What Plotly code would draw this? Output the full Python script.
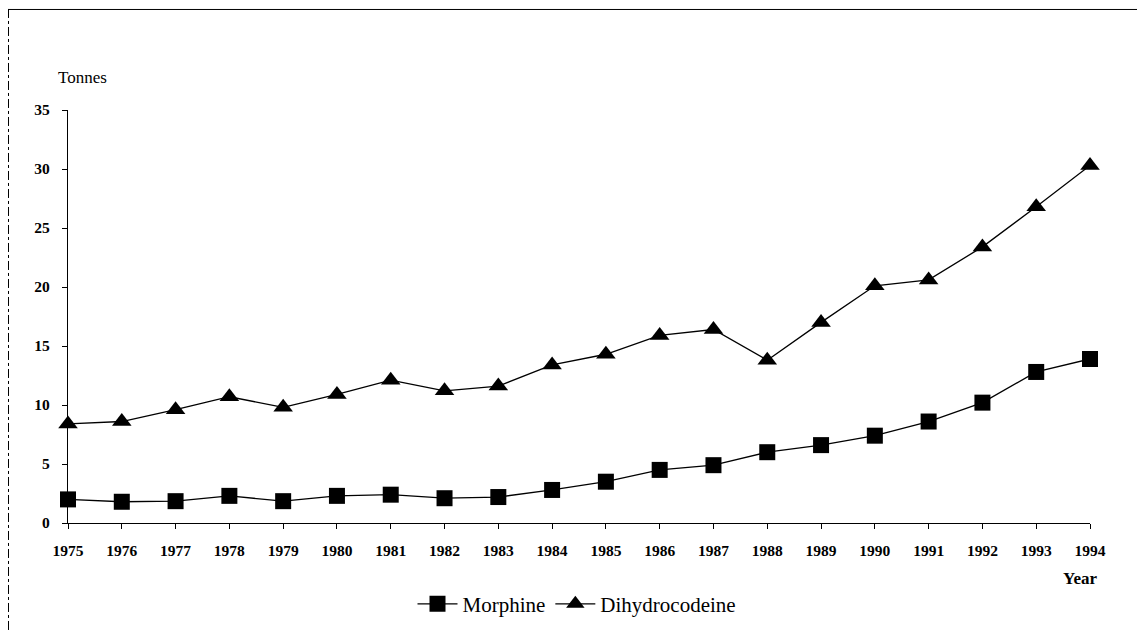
import plotly.graph_objects as go

years = list(range(1975, 1995))
morphine = [2.0, 1.8, 1.85, 2.3, 1.85, 2.3, 2.4, 2.1, 2.2, 2.8, 3.5, 4.5, 4.9, 6.0, 6.6, 7.4, 8.6, 10.2, 12.8, 13.9]
dihydrocodeine = [8.4, 8.6, 9.6, 10.7, 9.8, 10.9, 12.1, 11.2, 11.6, 13.4, 14.3, 15.9, 16.4, 13.8, 17.0, 20.1, 20.6, 23.4, 26.8, 30.3]
y_ticks = [0, 5, 10, 15, 20, 25, 30, 35]

OFF = 8  # page body margin
W, H = 1145 - OFF, 637 - OFF
L, R, T, B = 68 - OFF, 55, 110 - OFF, 110
pw, ph = W - L - R, H - T - B

def px_x(p):
    return (p - OFF - L) / pw

def px_y(p):
    return (H - B - (p - OFF)) / ph

serif = "Liberation Serif, Times New Roman, Times, serif"

fig = go.Figure()
fig.add_trace(go.Scatter(
    x=years, y=morphine, name="Morphine", mode="lines+markers",
    line=dict(color="black", width=1.3),
    marker=dict(symbol="square", size=16, color="black"),
    cliponaxis=False,
))
fig.add_trace(go.Scatter(
    x=years, y=dihydrocodeine, name="Dihydrocodeine", mode="lines+markers",
    line=dict(color="black", width=1.3),
    marker=dict(symbol="triangle-up", size=17, color="black"),
    cliponaxis=False,
))

fig.update_layout(
    width=W, height=H,
    margin=dict(l=L, r=R, t=T, b=B),
    paper_bgcolor="white", plot_bgcolor="white",
    font=dict(family=serif, color="black", size=15),
    showlegend=True,
    legend=dict(orientation="h", x=px_x(577), y=px_y(609), xanchor="center", yanchor="middle",
                font=dict(family=serif, size=21, color="black"), bgcolor="rgba(0,0,0,0)",
                itemwidth=40, tracegroupgap=0),
    xaxis=dict(range=[1975, 1994], tickmode="array", tickvals=years, ticktext=[str(y) for y in years],
               showgrid=False, zeroline=False, showline=True, linecolor="black", linewidth=1.2,
               ticks="outside", ticklen=5, tickcolor="black", ticklabelstandoff=8,
               tickfont=dict(family=serif, size=15.5, color="black", weight="bold")),
    yaxis=dict(range=[0, 35], tickmode="array", tickvals=y_ticks, ticktext=[str(v) for v in y_ticks],
               showgrid=False, zeroline=False, showline=True, linecolor="black", linewidth=1.2,
               ticks="outside", ticklen=5, tickcolor="black", ticklabelstandoff=9,
               tickfont=dict(family=serif, size=15.5, color="black", weight="bold")),
    annotations=[
        dict(text="Tonnes", xref="paper", yref="paper", x=px_x(56), y=px_y(77),
             xanchor="left", yanchor="middle", showarrow=False,
             font=dict(family=serif, size=17, color="black")),
        dict(text="<b>Year</b>", xref="paper", yref="paper", x=px_x(1099), y=px_y(583),
             xanchor="right", yanchor="middle", showarrow=False,
             font=dict(family=serif, size=17, color="black")),
    ],
    shapes=[
        dict(type="line", xref="paper", yref="paper", x0=px_x(8), x1=px_x(1145), y0=px_y(8.5), y1=px_y(8.5),
             line=dict(color="black", width=1)),
        dict(type="line", xref="paper", yref="paper", x0=px_x(8.5), x1=px_x(8.5), y0=px_y(8), y1=px_y(637),
             line=dict(color="black", width=1, dash="dashdot")),
    ],
)

fig.write_html("out.html")
